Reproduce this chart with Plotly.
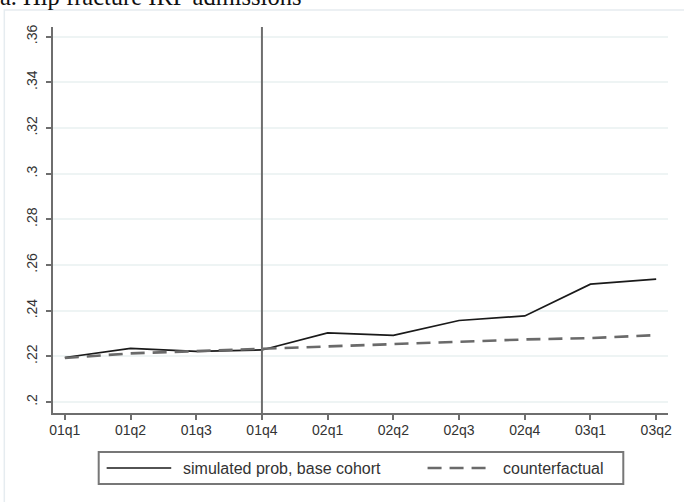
import plotly.graph_objects as go

# Quarterly periods and simulated probabilities of hip fracture IRF admission
quarters = ["01q1", "01q2", "01q3", "01q4", "02q1", "02q2", "02q3", "02q4", "03q1", "03q2"]
simulated = [0.2195, 0.2235, 0.2222, 0.2228, 0.2303, 0.2292, 0.2357, 0.2377, 0.2516, 0.2538]
counterfactual = [0.2193, 0.2213, 0.2223, 0.2233, 0.2241, 0.2253, 0.2263, 0.2274, 0.2280, 0.2293]

y_ticks = [0.20, 0.22, 0.24, 0.26, 0.28, 0.30, 0.32, 0.34, 0.36]
y_tick_text = [".2", ".22", ".24", ".26", ".28", ".3", ".32", ".34", ".36"]

policy_quarter = "01q4"
series_names = ["simulated prob, base cohort", "counterfactual"]

W, H = 684, 502
L, R, T, B = 53, 12, 27, 89
pw, ph = W - L - R, H - T - B


def px_x(p):
    return (p - L) / pw


def px_y(p):
    return (H - B - p) / ph


x_idx = list(range(len(quarters)))

fig = go.Figure()
fig.add_trace(go.Scatter(
    x=x_idx, y=simulated, mode="lines", name=series_names[0],
    line=dict(color="#1a1a1a", width=1.7), showlegend=False,
))
fig.add_trace(go.Scatter(
    x=x_idx, y=counterfactual, mode="lines", name=series_names[1],
    line=dict(color="#6a6a6a", width=2.6, dash="14px,8px"), showlegend=False,
))

shapes = []
# outer graph frame
shapes.append(dict(type="rect", xref="paper", yref="paper",
                   x0=px_x(4), x1=px_x(690), y0=px_y(510), y1=px_y(10),
                   line=dict(color="#e6ecf0", width=1.5), fillcolor="rgba(0,0,0,0)", layer="below"))
# vertical reference line at the policy quarter
qx = quarters.index(policy_quarter)
shapes.append(dict(type="line", xref="x", yref="paper", x0=qx, x1=qx, y0=0, y1=1,
                   line=dict(color="#6e6e6e", width=2)))
# legend box
shapes.append(dict(type="rect", xref="paper", yref="paper",
                   x0=px_x(99), x1=px_x(627), y0=px_y(484), y1=px_y(452),
                   line=dict(color="#777777", width=2), fillcolor="white"))
# legend samples
shapes.append(dict(type="line", xref="paper", yref="paper",
                   x0=px_x(107), x1=px_x(172), y0=px_y(468), y1=px_y(468),
                   line=dict(color="#1a1a1a", width=1.7)))
shapes.append(dict(type="line", xref="paper", yref="paper",
                   x0=px_x(430), x1=px_x(495), y0=px_y(468), y1=px_y(468),
                   line=dict(color="#6a6a6a", width=2.6, dash="14px,8px")))

annotations = [
    dict(text="a. Hip fracture IRF admissions", xref="paper", yref="paper",
         x=px_x(-2), y=px_y(-3), xanchor="left", yanchor="middle", showarrow=False,
         font=dict(family="Liberation Serif", size=24.5, color="#111111")),
    dict(text=series_names[0], xref="paper", yref="paper",
         x=px_x(182), y=px_y(468), xanchor="left", yanchor="middle", showarrow=False,
         font=dict(family="Liberation Sans", size=16, color="#333333")),
    dict(text=series_names[1], xref="paper", yref="paper",
         x=px_x(504), y=px_y(468), xanchor="left", yanchor="middle", showarrow=False,
         font=dict(family="Liberation Sans", size=16, color="#333333")),
]

fig.update_layout(
    width=W, height=H,
    margin=dict(l=L, r=R, t=T, b=B, pad=0),
    paper_bgcolor="white", plot_bgcolor="white",
    shapes=shapes, annotations=annotations,
    showlegend=False,
    xaxis=dict(
        tickmode="array", tickvals=x_idx, ticktext=quarters,
        range=[-0.18, 9.18], showgrid=False, zeroline=False,
        showline=True, linecolor="#6e6e6e", linewidth=2,
        ticks="outside", ticklen=5, tickwidth=2, tickcolor="#6e6e6e",
        ticklabelstandoff=-2,
        tickfont=dict(family="Liberation Sans", size=14, color="#333333"),
    ),
    yaxis=dict(
        tickmode="array", tickvals=y_ticks, ticktext=y_tick_text,
        range=[0.1952, 0.3642], showgrid=True, gridcolor="#eef4f4", gridwidth=1.5,
        zeroline=False, showline=True, linecolor="#6e6e6e", linewidth=2,
        ticks="outside", ticklen=5, tickwidth=2, tickcolor="#6e6e6e",
        tickangle=-90, ticklabelstandoff=3,
        tickfont=dict(family="Liberation Sans", size=14, color="#333333"),
    ),
)

fig.write_html("out.html")
